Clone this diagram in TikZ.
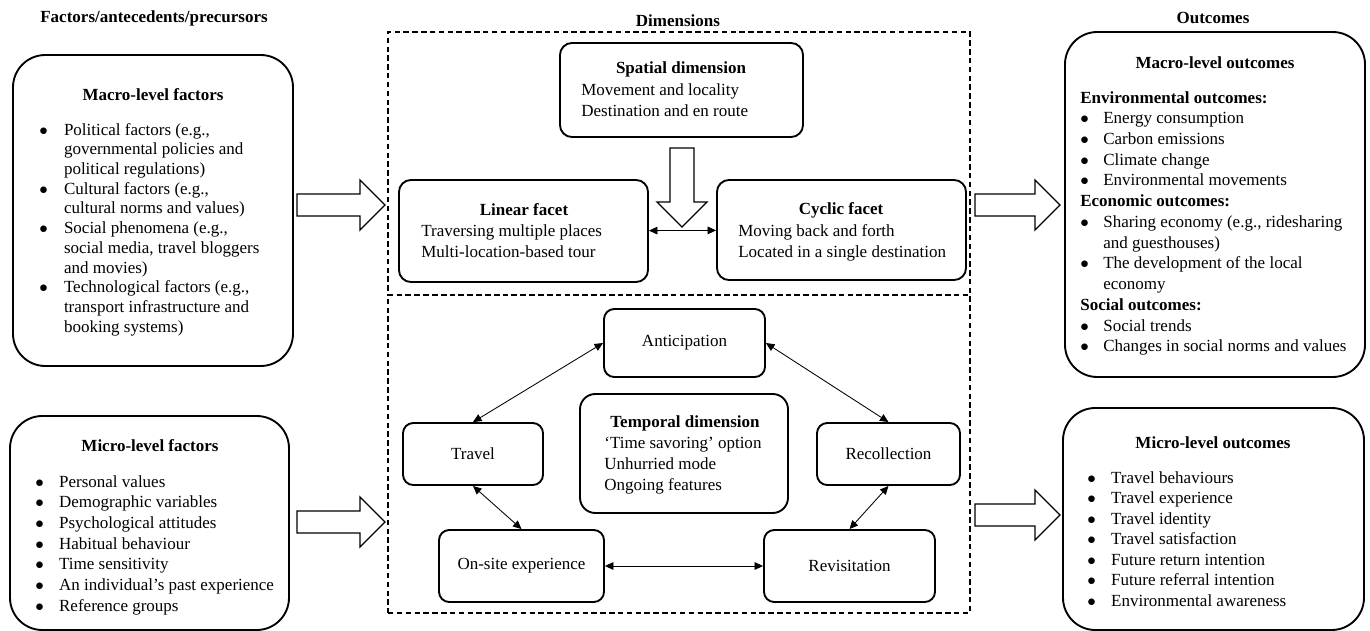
\documentclass[tikz,border=0pt]{standalone}
\usepackage{fontspec}
\setmainfont{Liberation Serif}
\usetikzlibrary{arrows.meta,fit,positioning}
\newlength{\pxu}
\setlength{\pxu}{0.588pt}
\newcommand{\blt}{$\bullet$}
\tikzset{%
	bigbox/.style={draw, line width=1.1pt, rounded corners=19pt, inner sep=0pt},
	smallbox/.style={draw, line width=1.1pt, rounded corners=6pt, inner sep=0pt, font=\fontsize{10}{11.6}\selectfont},
	panel/.style={draw, line width=0.8pt, dash pattern=on 3.2pt off 2pt, inner sep=0pt},
	txt/.style={inner sep=0pt, font=\fontsize{10}{#1}\selectfont},
	txt/.default=11.6,
	head/.style={inner sep=0pt, font=\fontsize{10}{11.6}\selectfont\bfseries},
	twoway/.style={draw, line width=0.5pt, {Triangle[length=5pt,width=4.5pt]}-{Triangle[length=5pt,width=4.5pt]}},
	fatarrow/.style={draw, line width=0.8pt, fill=white}}

% hollow block arrow: tail, rotation, length, half shaft width
\newcommand{\blockarrow}[4]{%
	\path[fatarrow, shift={#1}, rotate=#2] (0,-#4) -- (#3-25,-#4) -- (#3-25,-25) -- (#3,0)
		-- (#3-25,25) -- (#3-25,#4) -- (0,#4) -- cycle;}

\begin{document}
\begin{tikzpicture}[x=0.588pt, y=-0.588pt]
	\useasboundingbox (0,0) rectangle (1370,631);

	% column titles
	\node[head, anchor=west] (factorstitle) at (40,18) {Factors/antecedents/precursors};
	\node[head] (dimtitle) at (678,21) {Dimensions};
	\node[head] (outtitle) at (1213,18) {Outcomes};

	% factors
	\node[bigbox, fit={(13,55) (293,366)}] (macrof) {};
	\node[head] (macrofhead) at (153,95) {Macro-level factors};
	\node[txt, anchor=base west] (macroflist) at (39,135) {\begin{tabular}[t]{@{}p{14.5pt}@{}l@{}}
		\blt & Political factors (e.g.,\\
		& governmental policies and\\
		& political regulations)\\
		\blt & Cultural factors (e.g.,\\
		& cultural norms and values)\\
		\blt & Social phenomena (e.g.,\\
		& social media, travel bloggers\\
		& and movies)\\
		\blt & Technological factors (e.g.,\\
		& transport infrastructure and\\
		& booking systems)
	\end{tabular}};

	\node[bigbox, fit={(10,416) (289,630)}] (microf) {};
	\node[head] (microfhead) at (150,446) {Micro-level factors};
	\node[txt=12.2, anchor=base west] (microflist) at (35,487) {\begin{tabular}[t]{@{}p{14pt}@{}l@{}}
		\blt & Personal values\\
		\blt & Demographic variables\\
		\blt & Psychological attitudes\\
		\blt & Habitual behaviour\\
		\blt & Time sensitivity\\
		\blt & An individual's past experience\\
		\blt & Reference groups
	\end{tabular}};

	\blockarrow{(297,205)}{0}{88}{11}
	\blockarrow{(297,522)}{0}{88}{11}

	% dimensions
	\node[panel, fit={(388,32) (970,295)}] (spacepanel) {};
	\node[panel, fit={(388,295) (970,613)}] (timepanel) {};

	\node[smallbox, rounded corners=7pt, fit={(560,43) (803,137)}] (spatial) {};
	\node[head] (spatialhead) at (681,69) {Spatial dimension};
	\node[txt=12.35, anchor=base west] (spatiallist) at (581,95) {\begin{tabular}[t]{@{}l@{}}
		Movement and locality\\ Destination and en route\end{tabular}};

	\node[smallbox, rounded corners=7pt, fit={(399,180) (648,282)}] (linear) {};
	\node[head] (linearhead) at (524,210) {Linear facet};
	\node[txt=12.35, anchor=base west] (linearlist) at (421,236) {\begin{tabular}[t]{@{}l@{}}
		Traversing multiple places\\ Multi-location-based tour\end{tabular}};

	\node[smallbox, rounded corners=7pt, fit={(717,180) (966,280)}] (cyclic) {};
	\node[head] (cyclichead) at (841,210) {Cyclic facet};
	\node[txt=12.35, anchor=base west] (cycliclist) at (738,236) {\begin{tabular}[t]{@{}l@{}}
		Moving back and forth\\ Located in a single destination\end{tabular}};

	\blockarrow{(682,148)}{-90}{79}{12}
	\draw[twoway] (linear) -- (cyclic);

	\node[smallbox, minimum width=161\pxu, minimum height=68\pxu] (antic) at (684.5,343) {Anticipation};
	\node[smallbox, minimum width=140\pxu, minimum height=62\pxu] (travel) at (473,454) {Travel};
	\node[smallbox, minimum width=143\pxu, minimum height=62\pxu] (recoll) at (888.5,454) {Recollection};
	\node[smallbox, minimum width=165\pxu, minimum height=72\pxu] (onsite) at (521.5,566) {On-site experience};
	\node[smallbox, minimum width=171\pxu, minimum height=72\pxu] (revisit) at (849.5,566) {Revisitation};

	\node[smallbox, rounded corners=9pt, fit={(580,394) (788,513)}] (temporal) {};
	\node[head] (temporalhead) at (685,423) {Temporal dimension};
	\node[txt=12.35, anchor=base west] (temporallist) at (604,448) {\begin{tabular}[t]{@{}l@{}}
		`Time savoring' option\\ Unhurried mode\\ Ongoing features\end{tabular}};

	\draw[twoway] (antic.west) -- (travel.north);
	\draw[twoway] (antic.east) -- (recoll.north);
	\draw[twoway] (travel.south) -- (onsite.north);
	\draw[twoway] (recoll.south) -- (revisit.north);
	\draw[twoway] (onsite) -- (revisit);

	% outcomes
	\blockarrow{(975,205)}{0}{85}{11}
	\blockarrow{(975,515)}{0}{85}{11}

	\node[bigbox, fit={(1065,32) (1365,377)}] (macroo) {};
	\node[head] (macroohead) at (1215,63) {Macro-level outcomes};
	\node[txt=12.2, anchor=base west] (macroolist) at (1080,103) {\begin{tabular}[t]{@{}p{13.5pt}@{}l@{}}
		\multicolumn{2}{@{}l@{}}{\bfseries Environmental outcomes:}\\
		\blt & Energy consumption\\
		\blt & Carbon emissions\\
		\blt & Climate change\\
		\blt & Environmental movements\\
		\multicolumn{2}{@{}l@{}}{\bfseries Economic outcomes:}\\
		\blt & Sharing economy (e.g., ridesharing\\
		& and guesthouses)\\
		\blt & The development of the local\\
		& economy\\
		\multicolumn{2}{@{}l@{}}{\bfseries Social outcomes:}\\
		\blt & Social trends\\
		\blt & Changes in social norms and values
	\end{tabular}};

	\node[bigbox, fit={(1063,408) (1364,630)}] (microo) {};
	\node[head] (microohead) at (1213,443) {Micro-level outcomes};
	\node[txt=12.1, anchor=base west] (microolist) at (1087,483) {\begin{tabular}[t]{@{}p{14pt}@{}l@{}}
		\blt & Travel behaviours\\
		\blt & Travel experience\\
		\blt & Travel identity\\
		\blt & Travel satisfaction\\
		\blt & Future return intention\\
		\blt & Future referral intention\\
		\blt & Environmental awareness
	\end{tabular}};
\end{tikzpicture}
\end{document}
